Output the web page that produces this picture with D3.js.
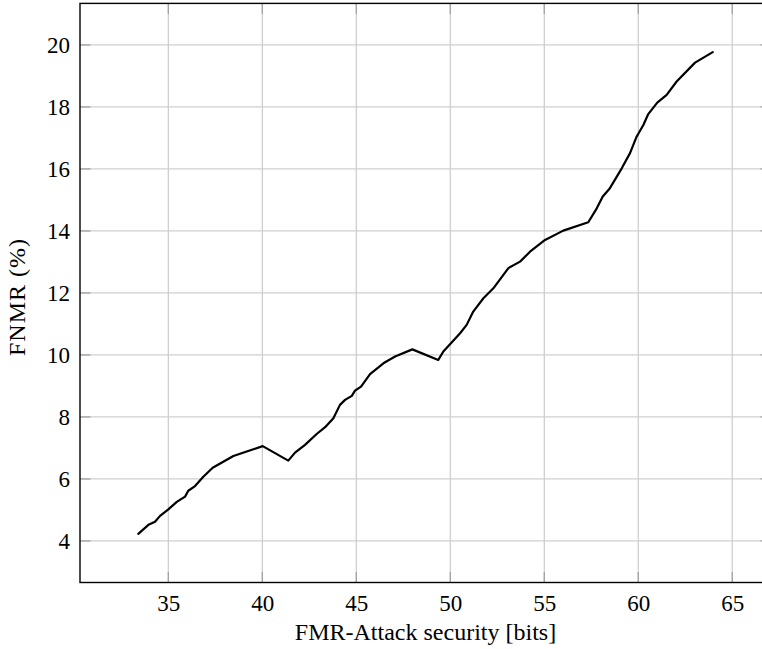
<!DOCTYPE html>
<html>
<head>
<meta charset="utf-8">
<script src="https://cdn.jsdelivr.net/npm/d3@7"></script>
<style>
  html, body { margin: 0; padding: 0; background: #fff; }
  svg { display: block; }
</style>
</head>
<body>
<svg id="chart" width="762" height="649"></svg>
<script>
// Security level (bits) vs. false non-match rate (%)
const securityBits = [
  33.40, 33.94, 34.29, 34.56, 35.00, 35.45, 35.89, 36.06, 36.42, 36.86,
  37.36, 38.46, 40.02, 41.38, 41.74, 42.27, 42.89, 43.34, 43.78, 44.13,
  44.40, 44.76, 44.93, 45.25, 45.73, 46.44, 47.06, 47.98, 49.36, 49.63,
  50.07, 50.52, 50.87, 51.22, 51.76, 52.29, 53.09, 53.71, 54.24, 55.04,
  56.01, 57.34, 57.79, 58.11, 58.49, 59.12, 59.56, 59.91, 60.27, 60.53,
  61.01, 61.51, 62.04, 63.02, 63.96
];
const fnmrPercent = [
  4.23, 4.52, 4.62, 4.81, 5.02, 5.26, 5.43, 5.62, 5.77, 6.07,
  6.36, 6.74, 7.06, 6.59, 6.85, 7.10, 7.45, 7.67, 7.96, 8.39,
  8.55, 8.68, 8.85, 8.98, 9.38, 9.73, 9.95, 10.18, 9.84, 10.11,
  10.40, 10.70, 10.97, 11.40, 11.83, 12.15, 12.80, 13.01, 13.33, 13.71,
  14.01, 14.28, 14.73, 15.11, 15.38, 16.02, 16.51, 17.04, 17.42, 17.77,
  18.14, 18.39, 18.82, 19.43, 19.77
];
const xTickValues = [35, 40, 45, 50, 55, 60, 65];
const yTickValues = [4, 6, 8, 10, 12, 14, 16, 18, 20];
const xTitle = "FMR-Attack security [bits]";
const yTitle = "FNMR (%)";

const serif = "'Liberation Serif', 'Times New Roman', Times, serif";
const svg = d3.select("#chart");
const plotL = 80, plotR = 771, plotT = 3.4, plotB = 582.5;

const x = d3.scaleLinear().domain([30.30, 67.06]).range([plotL, plotR]);
const y = d3.scaleLinear().domain([2.66, 21.34]).range([plotB, plotT]);

const gridColor = "#cfcfcf", tickColor = "#a3a3a3", tickLen = 10.5;

// grid lines
const grid = svg.append("g");
grid.selectAll("line.gx").data(xTickValues).join("line")
  .attr("x1", d => x(d)).attr("x2", d => x(d))
  .attr("y1", plotT).attr("y2", plotB)
  .attr("stroke", gridColor).attr("stroke-width", 1.3);
grid.selectAll("line.gy").data(yTickValues).join("line")
  .attr("y1", d => y(d)).attr("y2", d => y(d))
  .attr("x1", plotL).attr("x2", plotR)
  .attr("stroke", gridColor).attr("stroke-width", 1.3);

// inward ticks on all four sides
const ticks = svg.append("g").attr("stroke", tickColor).attr("stroke-width", 1.3);
xTickValues.forEach(v => {
  ticks.append("line").attr("x1", x(v)).attr("x2", x(v)).attr("y1", plotB).attr("y2", plotB - tickLen);
  ticks.append("line").attr("x1", x(v)).attr("x2", x(v)).attr("y1", plotT).attr("y2", plotT + tickLen);
});
yTickValues.forEach(v => {
  ticks.append("line").attr("y1", y(v)).attr("y2", y(v)).attr("x1", plotL).attr("x2", plotL + tickLen);
  ticks.append("line").attr("y1", y(v)).attr("y2", y(v)).attr("x1", plotR).attr("x2", plotR - tickLen);
});

// tick labels via d3 axes (tick lines hidden, labels only)
const xAxis = svg.append("g").attr("transform", `translate(0,${plotB})`)
  .call(d3.axisBottom(x).tickValues(xTickValues).tickSize(0).tickPadding(12));
xAxis.select(".domain").remove();
xAxis.attr("font-family", serif).attr("font-size", 23);
xAxis.selectAll("text").attr("fill", "#000").attr("dy", "0.71em");

const yAxis = svg.append("g").attr("transform", `translate(${plotL},0)`)
  .call(d3.axisLeft(y).tickValues(yTickValues).tickSize(0).tickPadding(10));
yAxis.select(".domain").remove();
yAxis.attr("font-family", serif).attr("font-size", 23);
yAxis.selectAll("text").attr("fill", "#000").attr("dy", "0.34em");

// data line
const pts = securityBits.map((b, i) => [b, fnmrPercent[i]]);
svg.append("path").datum(pts)
  .attr("fill", "none").attr("stroke", "#000").attr("stroke-width", 2.2)
  .attr("stroke-linejoin", "round").attr("stroke-linecap", "round")
  .attr("d", d3.line().x(d => x(d[0])).y(d => y(d[1])));

// frame
svg.append("rect").attr("x", plotL).attr("y", plotT)
  .attr("width", plotR - plotL).attr("height", plotB - plotT)
  .attr("fill", "none").attr("stroke", "#000").attr("stroke-width", 1.4);

// titles
svg.append("text").attr("x", (plotL + plotR) / 2).attr("y", 640)
  .attr("text-anchor", "middle").attr("font-family", serif).attr("font-size", 24)
  .text(xTitle);
svg.append("text").attr("transform", `translate(25,297) rotate(-90)`)
  .attr("text-anchor", "middle").attr("font-family", serif).attr("font-size", 24)
  .attr("letter-spacing", 1).text(yTitle);
</script>
</body>
</html>
